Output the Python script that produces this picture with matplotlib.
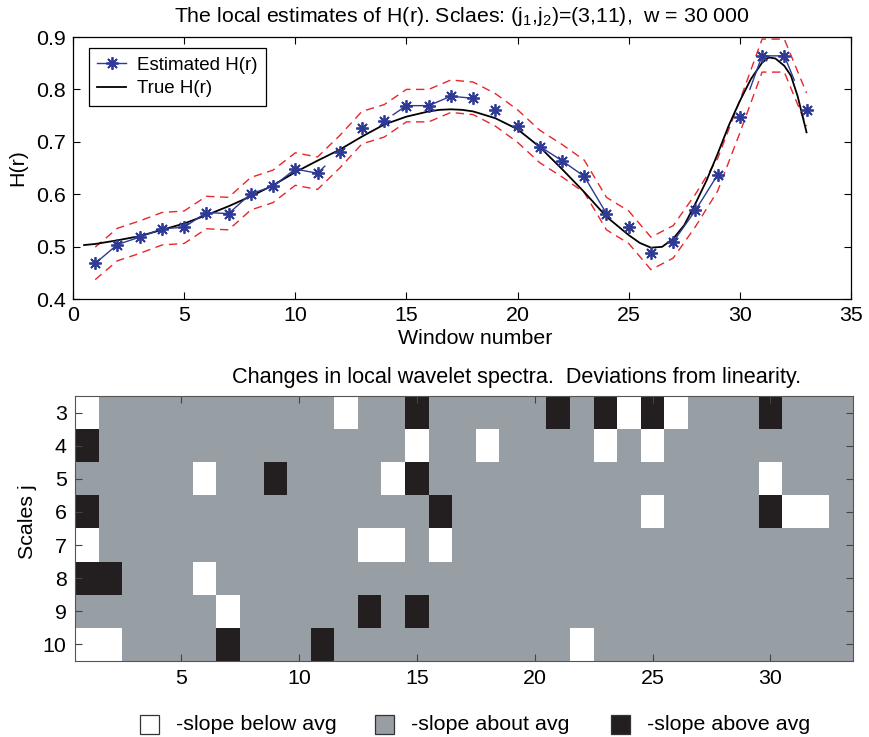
import numpy as np
import matplotlib
matplotlib.use("Agg")
import matplotlib.pyplot as plt
from matplotlib.colors import ListedColormap
from matplotlib.lines import Line2D
from matplotlib.patches import Rectangle

plt.rcParams['font.family'] = ['Liberation Sans', 'DejaVu Sans']
plt.rcParams['mathtext.default'] = 'regular'

# ---------------- data: top panel ----------------
windows = list(range(1, 34))
est_h = [0.468, 0.504, 0.518, 0.534, 0.537, 0.565, 0.563, 0.601, 0.615, 0.648,
         0.640, 0.681, 0.727, 0.740, 0.769, 0.769, 0.787, 0.783, 0.761, 0.730,
         0.691, 0.664, 0.634, 0.563, 0.537, 0.487, 0.509, 0.569, 0.637, 0.748,
         0.864, 0.864, 0.761]
upper_h = [0.499, 0.535, 0.549, 0.565, 0.568, 0.596, 0.594, 0.632, 0.646, 0.679,
           0.671, 0.712, 0.758, 0.771, 0.800, 0.800, 0.818, 0.814, 0.792, 0.761,
           0.722, 0.695, 0.665, 0.594, 0.568, 0.518, 0.540, 0.600, 0.668, 0.779,
           0.896, 0.896, 0.793]
lower_h = [0.437, 0.473, 0.487, 0.503, 0.506, 0.534, 0.532, 0.570, 0.584, 0.617,
           0.609, 0.650, 0.696, 0.709, 0.738, 0.738, 0.756, 0.752, 0.730, 0.699,
           0.660, 0.633, 0.603, 0.532, 0.506, 0.456, 0.478, 0.538, 0.606, 0.717,
           0.833, 0.833, 0.730]
true_x = [0.5, 1, 2, 3, 4, 5, 6, 7, 8, 9, 10, 11, 12, 13, 14, 15, 16, 16.5, 17,
          17.5, 18, 19, 20, 21, 22, 23, 24, 25, 25.5, 26, 26.5, 27, 27.5, 28,
          28.5, 29, 29.5, 30, 30.5, 31, 31.3, 31.6, 32, 32.3, 32.6, 33]
true_h = [0.503, 0.505, 0.512, 0.520, 0.532, 0.544, 0.560, 0.577, 0.596, 0.617,
          0.642, 0.664, 0.685, 0.710, 0.733, 0.748, 0.758, 0.761, 0.762,
          0.761, 0.758, 0.745, 0.724, 0.690, 0.648, 0.604, 0.557, 0.522, 0.507,
          0.498, 0.4995, 0.515, 0.541, 0.582, 0.626, 0.677, 0.731, 0.778, 0.820,
          0.851, 0.861, 0.859, 0.845, 0.826, 0.787, 0.718]
# visible stretches of the estimated-H connecting line (window-number ranges)
est_line_spans = [(1, 11.33), (14.4, 18), (21, 24), (27, 29), (30.45, 32.45)]

# ---------------- data: bottom panel ----------------
scales = [3, 4, 5, 6, 7, 8, 9, 10]
# row j -> windows whose local slope is below / above average (others: about avg)
white_cells = {3: [1, 12, 24, 26], 4: [15, 18, 23, 25], 5: [6, 14, 30],
               6: [25, 31, 32], 7: [1, 13, 14, 16], 8: [6], 9: [7], 10: [1, 2, 22]}
black_cells = {3: [15, 21, 23, 25, 30], 4: [1], 5: [9, 15], 6: [1, 16, 30],
               7: [], 8: [1, 2], 9: [13, 15], 10: [7, 11]}
legend_labels = ['-slope below avg', '-slope about avg', '-slope above avg']

# ---------------- figure ----------------
W, H = 870, 737
fig = plt.figure(figsize=(W / 100, H / 100), dpi=100)

blue = '#2e3a94'
red = '#e8262b'
FS = 15.4

ax1 = fig.add_axes([73 / W, 1 - 299 / H, 778 / W, 262 / H])
ax1.plot(true_x, true_h, color='black', lw=1.3, zorder=3)
ax1.plot(windows, upper_h, color=red, lw=1.0, ls=(0, (6, 4)), zorder=2)
ax1.plot(windows, lower_h, color=red, lw=1.0, ls=(0, (6, 4)), zorder=2)
for a, b in est_line_spans:
    xs = [a] + [w for w in windows if a < w < b] + [b]
    ax1.plot(xs, np.interp(xs, windows, est_h), color=blue, lw=1.0, zorder=4)
ax1.plot(windows, est_h, ls='none', marker=(8, 2, 0), ms=9, mew=1.3,
         color=blue, zorder=5)
ax1.set_xlim(0, 35)
ax1.set_ylim(0.4, 0.9)
ax1.set_xticks(range(0, 36, 5))
ax1.set_yticks([0.4, 0.5, 0.6, 0.7, 0.8, 0.9])
ax1.set_yticklabels(['0.4', '0.5', '0.6', '0.7', '0.8', '0.9'])
ax1.tick_params(direction='in', length=5, width=0.8, top=True, right=True,
                labelsize=FS, pad=5)
for s in ax1.spines.values():
    s.set_linewidth(0.9)
handles = [Line2D([], [], color=blue, lw=1.0, marker=(8, 2, 0), ms=9, mew=1.3),
           Line2D([], [], color='black', lw=1.3)]
leg = ax1.legend(handles, ['Estimated H(r)', 'True H(r)'], loc='upper left',
                 bbox_to_anchor=(0.0206, 0.958), borderaxespad=0, fontsize=13.5,
                 fancybox=False, edgecolor='black', framealpha=1,
                 handlelength=1.5, handletextpad=0.6, borderpad=0.45,
                 labelspacing=0.35)
leg.get_frame().set_linewidth(0.9)

fig.text(462 / W, 1 - 17 / H,
         'The local estimates of H(r). Sclaes: (j$_1$,j$_2$)=(3,11),  w = 30 000',
         ha='center', va='center', fontsize=15.3)
fig.text(475 / W, 1 - 338 / H, 'Window number', ha='center', va='center', fontsize=FS)
fig.text(18 / W, 1 - 168 / H, 'H(r)', ha='center', va='center', rotation=90, fontsize=FS)

# bottom heatmap
grid = np.ones((len(scales), len(windows)))
for i, j in enumerate(scales):
    for w in white_cells[j]:
        grid[i, w - 1] = 0
    for w in black_cells[j]:
        grid[i, w - 1] = 2
cell_colors = ['#ffffff', '#979ea4', '#231f20']
cmap = ListedColormap(cell_colors)
ax2 = fig.add_axes([75 / W, 1 - 661 / H, 778 / W, 265 / H])
ax2.imshow(grid, cmap=cmap, vmin=0, vmax=2, aspect='auto', interpolation='nearest',
           extent=(0.5, len(windows) + 0.5, scales[-1] + 0.5, scales[0] - 0.5))
ax2.set_xticks(range(5, 31, 5))
ax2.set_yticks(scales)
ax2.tick_params(direction='in', length=5, width=0.8, top=True, right=True,
                labelsize=FS, pad=6, color='#444444')
for t in ax2.yaxis.get_major_ticks():
    t.tick1line.set_color('#c4c4c4')
for s in ax2.spines.values():
    s.set_linewidth(0.8)
    s.set_color('#555555')
fig.text(517 / W, 1 - 377 / H,
         'Changes in local wavelet spectra.  Deviations from linearity.',
         ha='center', va='center', fontsize=15.6)
fig.text(28 / W, 1 - 522 / H, 'Scales j', ha='center', va='center', rotation=90, fontsize=FS)

# bottom legend
sq = 19
sq_x = [140, 375, 611]
for cx, col, lab in zip(sq_x, cell_colors, legend_labels):
    fig.patches.append(Rectangle((cx / W, 1 - 734 / H), sq / W, sq / H,
                                 transform=fig.transFigure, facecolor=col,
                                 edgecolor='#333333', lw=0.9))
    fig.text((cx + sq + 17) / W, 1 - 724 / H, lab, ha='left', va='center', fontsize=FS)

fig.savefig('out.png', dpi=100)
